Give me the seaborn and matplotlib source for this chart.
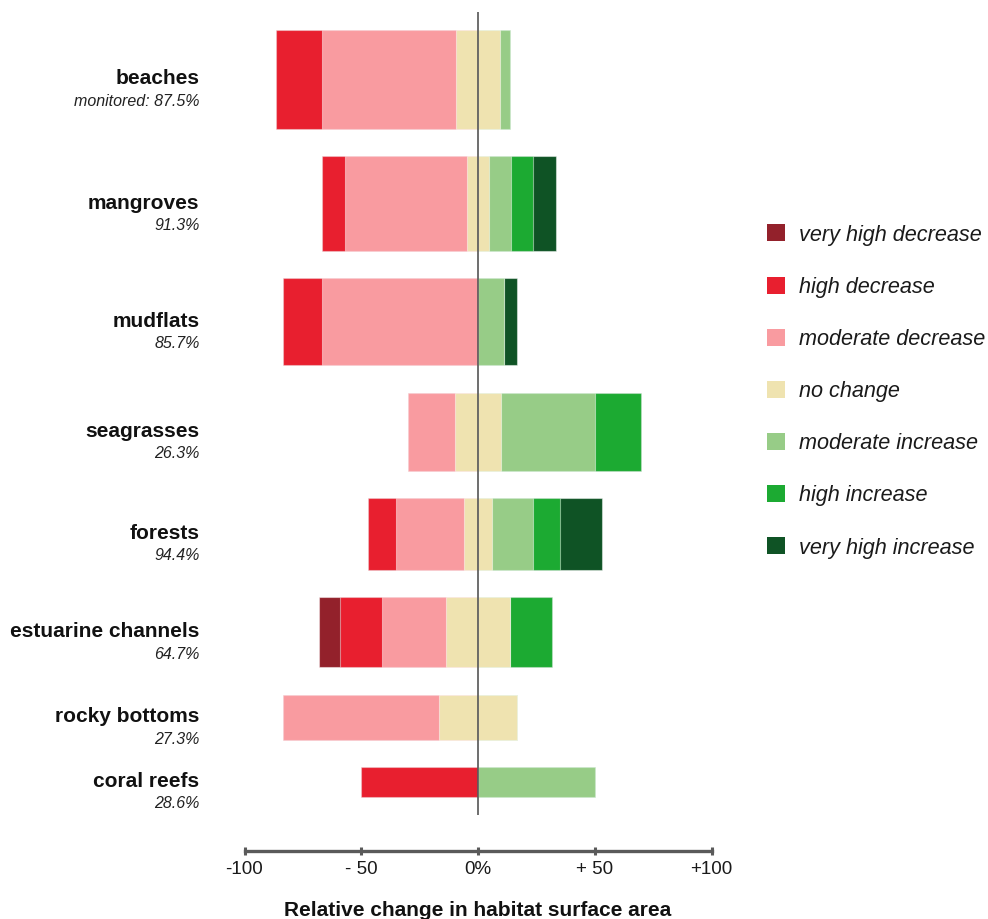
import numpy as np
import pandas as pd
import matplotlib
matplotlib.use("Agg")
import matplotlib.pyplot as plt
from matplotlib.patches import Rectangle
from matplotlib.transforms import blended_transform_factory
import seaborn as sns

# ---------------- data ----------------
categories = ["beaches", "mangroves", "mudflats", "seagrasses", "forests",
              "estuarine channels", "rocky bottoms", "coral reefs"]
monitored = ["monitored: 87.5%", "91.3%", "85.7%", "26.3%", "94.4%",
             "64.7%", "27.3%", "28.6%"]

classes = ["very high decrease", "high decrease", "moderate decrease", "no change",
           "moderate increase", "high increase", "very high increase"]

very_high_decrease = [0, 0, 0, 0, 0, 9.1, 0, 0]
high_decrease = [19.6, 9.5, 16.7, 0, 11.8, 18.2, 0, 50.0]
moderate_decrease = [57.5, 52.4, 66.7, 20.0, 29.4, 27.3, 66.7, 0]
no_change = [18.8, 9.5, 0, 20.0, 11.8, 27.3, 33.3, 0]
moderate_increase = [4.3, 9.5, 11.1, 40.0, 17.6, 0, 0, 50.0]
high_increase = [0, 9.5, 0, 20.0, 11.8, 18.2, 0, 0]
very_high_increase = [0, 9.5, 5.6, 0, 17.6, 0, 0, 0]

tick_values = [-100, -50, 0, 50, 100]
tick_labels = ["-100", "- 50", "0%", "+ 50", "+100"]
x_label = "Relative change in habitat surface area"

# ---------------- style ----------------
colors = {
    "very high decrease": "#93212b",
    "high decrease": "#e81f2f",
    "moderate decrease": "#f99ba0",
    "no change": "#efe3b0",
    "moderate increase": "#97cc87",
    "high increase": "#1caa32",
    "very high increase": "#0f5325",
}
bar_thickness_px = [98.7, 94.7, 87.0, 78.0, 71.3, 70.3, 44.6, 29.7]
gap_px = 27.5
first_top_px = 30.0

sns.set_style("white")
plt.rcParams["font.family"] = ["Liberation Sans", "DejaVu Sans"]

W, H = 988, 919
fig = plt.figure(figsize=(W / 100, H / 100), dpi=100)
ax = fig.add_axes([244.5 / W, 1 - 815 / H, 467 / W, (815 - 12) / H])

df = pd.DataFrame({
    "category": categories,
    "very high decrease": very_high_decrease,
    "high decrease": high_decrease,
    "moderate decrease": moderate_decrease,
    "no change": no_change,
    "moderate increase": moderate_increase,
    "high increase": high_increase,
    "very high increase": very_high_increase,
})

# bar centres (pixel-like data units, y axis inverted)
centers = []
top = first_top_px
for th in bar_thickness_px:
    centers.append(top + th / 2)
    top += th + gap_px

half = df["no change"] / 2
neg_stack = [("no change", half), ("moderate decrease", df["moderate decrease"]),
             ("high decrease", df["high decrease"]), ("very high decrease", df["very high decrease"])]
pos_stack = [("no change", half), ("moderate increase", df["moderate increase"]),
             ("high increase", df["high increase"]), ("very high increase", df["very high increase"])]

layers = []
for sign, stack in ((-1, neg_stack), (1, pos_stack)):
    cum = pd.Series(np.zeros(len(df)))
    ends = []
    for name, v in stack:
        cum = cum + v
        ends.append((name, sign * cum.copy()))
    layers.extend(reversed(ends))  # outermost first


def draw_layer(name, values):
    before = len(ax.patches)
    sns.barplot(x=list(values), y=categories, orient="h", color=colors[name],
                saturation=1, errorbar=None, ax=ax,
                edgecolor=(1, 1, 1, 0.45), linewidth=0.8)
    for p in ax.patches[before:]:
        idx = int(round(p.get_y() + p.get_height() / 2))
        th = bar_thickness_px[idx]
        p.set_y(centers[idx] - th / 2)
        p.set_height(th)


for name, vals in layers:
    draw_layer(name, vals)

ax.set_ylim(815, 12)
ax.set_xlim(-100, 100)
ax.set_yticks([])
ax.set_ylabel("")

ax.axvline(0, color="#555555", lw=1.2, zorder=5)

for s in ("top", "right", "left"):
    ax.spines[s].set_visible(False)
ax.spines["bottom"].set_position(("outward", 36 * 0.72))
ax.spines["bottom"].set_bounds(-100, 100)
ax.spines["bottom"].set_color("#5a5a5a")
ax.spines["bottom"].set_linewidth(2.4)
ax.set_xticks(tick_values)
ax.set_xticklabels(tick_labels)
ax.tick_params(axis="x", bottom=True, direction="inout", length=6, width=2.2,
               color="#5a5a5a", labelsize=13.5, pad=4.5, labelcolor="#1a1a1a")
ax.set_xlabel(x_label, fontweight="bold", fontsize=15, labelpad=16, color="#111111")

# category labels
trans = blended_transform_factory(fig.transFigure, ax.transData)
for c, m, yc in zip(categories, monitored, centers):
    ax.text(199.5 / W, yc + 5, c, transform=trans, ha="right", va="baseline",
            fontweight="bold", fontsize=15, color="#111111")
    ax.text(199.5 / W, yc + 26.4, m, transform=trans, ha="right", va="baseline",
            style="italic", fontsize=11.5, color="#222222")

# legend
for i, cls in enumerate(classes):
    yc = 233 + 52.1 * i
    fig.add_artist(Rectangle((767 / W, 1 - (yc + 8.5) / H), 17.5 / W, 17 / H,
                             transform=fig.transFigure, facecolor=colors[cls],
                             edgecolor="none"))
    fig.text(799 / W, 1 - (yc + 2.5) / H, cls, style="italic", fontsize=15.6,
             va="center", ha="left", color="#1a1a1a")

fig.savefig("out.png", dpi=100)
